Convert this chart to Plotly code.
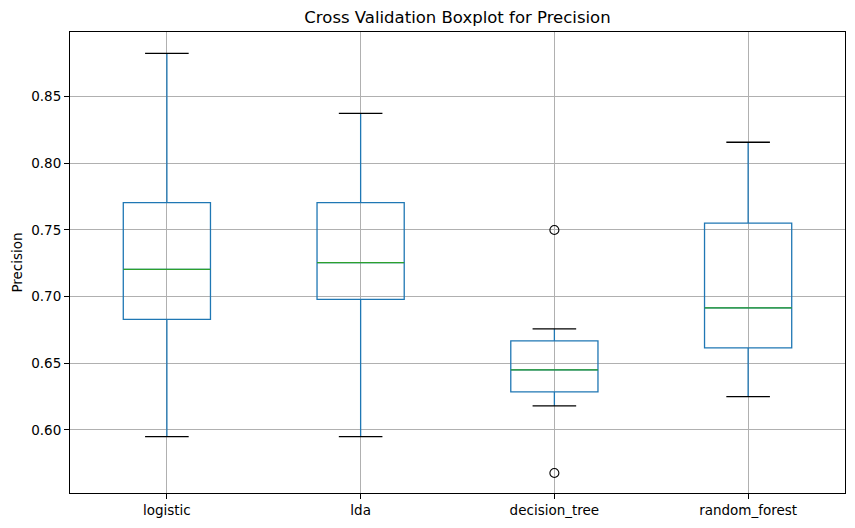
import plotly.graph_objects as go

models = ["logistic", "lda", "decision_tree", "random_forest"]
positions = [1, 2, 3, 4]
lower_whisker = [0.595, 0.595, 0.618, 0.625]
q1 = [0.683, 0.698, 0.6285, 0.6615]
median = [0.7205, 0.7255, 0.645, 0.6915]
q3 = [0.7705, 0.7705, 0.6668, 0.7552]
upper_whisker = [0.8825, 0.8375, 0.6758, 0.8158]
outlier_x = [3, 3]
outlier_y = [0.750, 0.5677]

box_w = 0.45
cap_w = box_w / 2

BLUE = "#1f77b4"
GREEN = "#2ca02c"
FONT = "DejaVu Sans"

fig = go.Figure()

fig.add_trace(go.Box(
    x=positions, q1=q1, median=median, q3=q3,
    lowerfence=lower_whisker, upperfence=upper_whisker,
    width=box_w, whiskerwidth=0,
    line=dict(color=BLUE, width=1.3),
    fillcolor="rgba(0,0,0,0)",
    boxpoints=False, showlegend=False, hoverinfo="skip",
))

# medians
mx, my = [], []
for p, m in zip(positions, median):
    mx += [p - box_w / 2, p + box_w / 2, None]
    my += [m, m, None]
fig.add_trace(go.Scatter(x=mx, y=my, mode="lines",
                         line=dict(color=GREEN, width=1.3),
                         showlegend=False, hoverinfo="skip"))

# caps
cx, cy = [], []
for p, lo, hi in zip(positions, lower_whisker, upper_whisker):
    cx += [p - cap_w / 2, p + cap_w / 2, None, p - cap_w / 2, p + cap_w / 2, None]
    cy += [lo, lo, None, hi, hi, None]
fig.add_trace(go.Scatter(x=cx, y=cy, mode="lines",
                         line=dict(color="black", width=1.3),
                         showlegend=False, hoverinfo="skip"))

# outliers
fig.add_trace(go.Scatter(x=outlier_x, y=outlier_y, mode="markers",
                         marker=dict(symbol="circle-open", size=9,
                                     color="black", line=dict(width=1.1)),
                         showlegend=False, hoverinfo="skip"))

axis_common = dict(
    showline=True, linecolor="black", linewidth=1, mirror=True,
    ticks="outside", ticklen=5, tickcolor="black", tickwidth=1,
    showgrid=True, gridcolor="#b0b0b0", gridwidth=1,
    zeroline=False,
    tickfont=dict(family=FONT, size=13.5, color="black"),
)

fig.update_layout(
    width=855, height=528,
    margin=dict(l=70, r=10, t=32, b=35),
    plot_bgcolor="white", paper_bgcolor="white",
    title=dict(text="Cross Validation Boxplot for Precision",
               font=dict(family=FONT, size=16.5, color="black"),
               x=0.5, xref="paper", xanchor="center",
               y=1 - 17 / 528, yanchor="middle"),
    xaxis=dict(range=[0.5, 4.5], tickvals=positions, ticktext=models,
               **axis_common),
    yaxis=dict(range=[0.5527, 0.8985],
               tickvals=[0.60, 0.65, 0.70, 0.75, 0.80, 0.85],
               ticktext=["0.60", "0.65", "0.70", "0.75", "0.80", "0.85"],
               title=dict(text="Precision",
                          font=dict(family=FONT, size=13.5, color="black"),
                          standoff=5),
               **axis_common),
)

fig.write_html("out.html",
               config={"displayModeBar": False},
               post_script="document.body.style.margin='0';document.body.style.overflow='hidden';")
